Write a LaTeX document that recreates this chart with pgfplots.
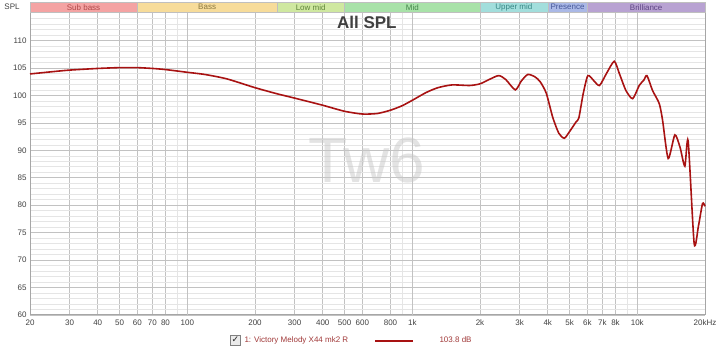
\documentclass[border=0pt]{standalone}
\usepackage{fontspec}
\setmainfont{Liberation Sans}
\newfontfamily\dejavu{DejaVu Sans}
\usepackage{pgfplots}
\pgfplotsset{compat=1.18}
\definecolor{curve}{HTML}{A81212}
\definecolor{legred}{HTML}{A03838}
\definecolor{sbbg}{HTML}{F4A3A3}\definecolor{sbtx}{HTML}{B04848}
\definecolor{babg}{HTML}{F7DC9A}\definecolor{batx}{HTML}{8A7840}
\definecolor{lmbg}{HTML}{CFE8A0}\definecolor{lmtx}{HTML}{5E8438}
\definecolor{mibg}{HTML}{A8E2A8}\definecolor{mitx}{HTML}{44864A}
\definecolor{umbg}{HTML}{A2DEDC}\definecolor{umtx}{HTML}{368684}
\definecolor{prbg}{HTML}{AAB8E6}\definecolor{prtx}{HTML}{46589A}
\definecolor{brbg}{HTML}{B8A2D2}\definecolor{brtx}{HTML}{5E4484}
\begin{document}
\begin{tikzpicture}
\path[use as bounding box] (0pt,0pt) rectangle (720pt,353pt);
\begin{axis}[at={(30pt,38pt)}, anchor=south west, scale only axis,
  width=675pt, height=302pt,
  xmode=log, xmin=20, xmax=20000, ymin=60, ymax=115,
  xtick={20,30,40,50,60,70,80,200,300,400,500,600,800,2000,3000,4000,5000,6000,7000,8000,20000},
  xticklabels={20,30,40,50,60,70,80,200,300,400,500,600,800,2k,3k,4k,5k,6k,7k,8k,20kHz},
  extra x ticks={100,1000,10000}, extra x tick labels={100,1k,10k},
  extra x tick style={grid style={draw=black!45, line width=0.6pt}},
  minor xtick={90,900,9000},
  ytick={60,65,...,110},
  minor ytick={61,...,114},
  grid=both,
  major grid style={draw=black!24, line width=0.5pt},
  minor grid style={draw=black!10, line width=0.5pt},
  major tick length=0pt, minor tick length=0pt,
  axis line style={draw=black!35, line width=1pt},
  tick label style={font=\fontsize{8}{9}\selectfont, text=black!75},
  xticklabel style={yshift=-1pt},
  /pgf/number format/assume math mode=true,
  clip=false,
]
% frequency bands strip
\fill[sbbg, draw=black!25, line width=0.4pt] (axis cs:20,115.2) rectangle (axis cs:60,116.9);
\fill[babg, draw=black!25, line width=0.4pt] (axis cs:60,115.2) rectangle (axis cs:250,116.9);
\fill[lmbg, draw=black!25, line width=0.4pt] (axis cs:250,115.2) rectangle (axis cs:500,116.9);
\fill[mibg, draw=black!25, line width=0.4pt] (axis cs:500,115.2) rectangle (axis cs:2000,116.9);
\fill[umbg, draw=black!25, line width=0.4pt] (axis cs:2000,115.2) rectangle (axis cs:4000,116.9);
\fill[prbg, draw=black!25, line width=0.4pt] (axis cs:4000,115.2) rectangle (axis cs:6000,116.9);
\fill[brbg, draw=black!25, line width=0.4pt] (axis cs:6000,115.2) rectangle (axis cs:20000,116.9);
\node[font=\fontsize{8}{8}\selectfont, text=sbtx] at (axis cs:34.6,116.05) {Sub bass};
\node[font=\fontsize{8}{8}\selectfont, text=batx] at (axis cs:122.5,116.05) {Bass};
\node[font=\fontsize{8}{8}\selectfont, text=lmtx] at (axis cs:353.6,116.05) {Low mid};
\node[font=\fontsize{8}{8}\selectfont, text=mitx] at (axis cs:1000,116.05) {Mid};
\node[font=\fontsize{8}{8}\selectfont, text=umtx] at (axis cs:2828,116.05) {Upper mid};
\node[font=\fontsize{8}{8}\selectfont, text=prtx] at (axis cs:4899,116.05) {Presence};
\node[font=\fontsize{8}{8}\selectfont, text=brtx] at (axis cs:10954,116.05) {Brilliance};
% watermark and title
\node[font=\fontsize{64}{64}\selectfont, text=black!22, text opacity=0.5] at (rel axis cs:0.499,0.513) {Tw6};
\node[font=\bfseries\fontsize{17}{17}\selectfont, text=black!75] at (rel axis cs:0.499,0.970) {All SPL};
\addplot[curve, line width=1.6pt, smooth, tension=0.4] coordinates {
(20,103.9)(25,104.3)(30,104.6)(40,104.9)(50,105.05)(60,105.05)(70,104.9)(80,104.7)
(100,104.2)(120,103.8)(150,103.0)(200,101.4)(250,100.3)(300,99.5)(400,98.2)(500,97.1)
(600,96.6)(700,96.7)(800,97.3)(900,98.1)(1000,99.1)(1150,100.5)(1300,101.4)(1500,101.9)
(1800,101.8)(2000,102.1)(2200,102.9)(2420,103.6)(2600,102.9)(2870,101.0)(3050,102.6)
(3260,103.8)(3500,103.4)(3700,102.5)(3940,100.4)(4210,96.0)(4480,93.1)(4740,92.2)
(5000,93.4)(5350,95.2)(5500,95.9)(5750,100.3)(6030,103.6)(6400,102.7)(6790,101.8)
(7300,104.0)(7900,106.2)(8320,104.0)(8900,100.9)(9540,99.4)(10200,101.8)(10700,102.8)
(11040,103.6)(11690,100.9)(12520,98.5)(12950,95.5)(13720,88.5)(14690,92.8)(15500,90.5)
(16270,87.1)(16830,91.7)(17900,73.0)(18700,76.2)(19500,80.3)(20000,79.8)
};
\end{axis}
% top-left axis name
\node[font=\fontsize{8}{8}\selectfont, text=black!75] at (12pt,346pt) {SPL};
% legend
\draw[black!50, fill=black!8, line width=0.5pt] (230pt,8pt) rectangle (240pt,18pt);
\node[font=\dejavu\fontsize{9}{9}\selectfont, text=black!85] at (235.5pt,13pt) {✓};
\node[anchor=west, font=\fontsize{8}{8}\selectfont, text=legred] at (241pt,13pt) {1: Victory Melody X44 mk2 R};
\draw[curve, line width=1.4pt] (375pt,12pt) -- (413pt,12pt);
\node[anchor=west, font=\fontsize{8}{8}\selectfont, text=legred] at (436pt,13pt) {103.8 dB};
\end{tikzpicture}
\end{document}
